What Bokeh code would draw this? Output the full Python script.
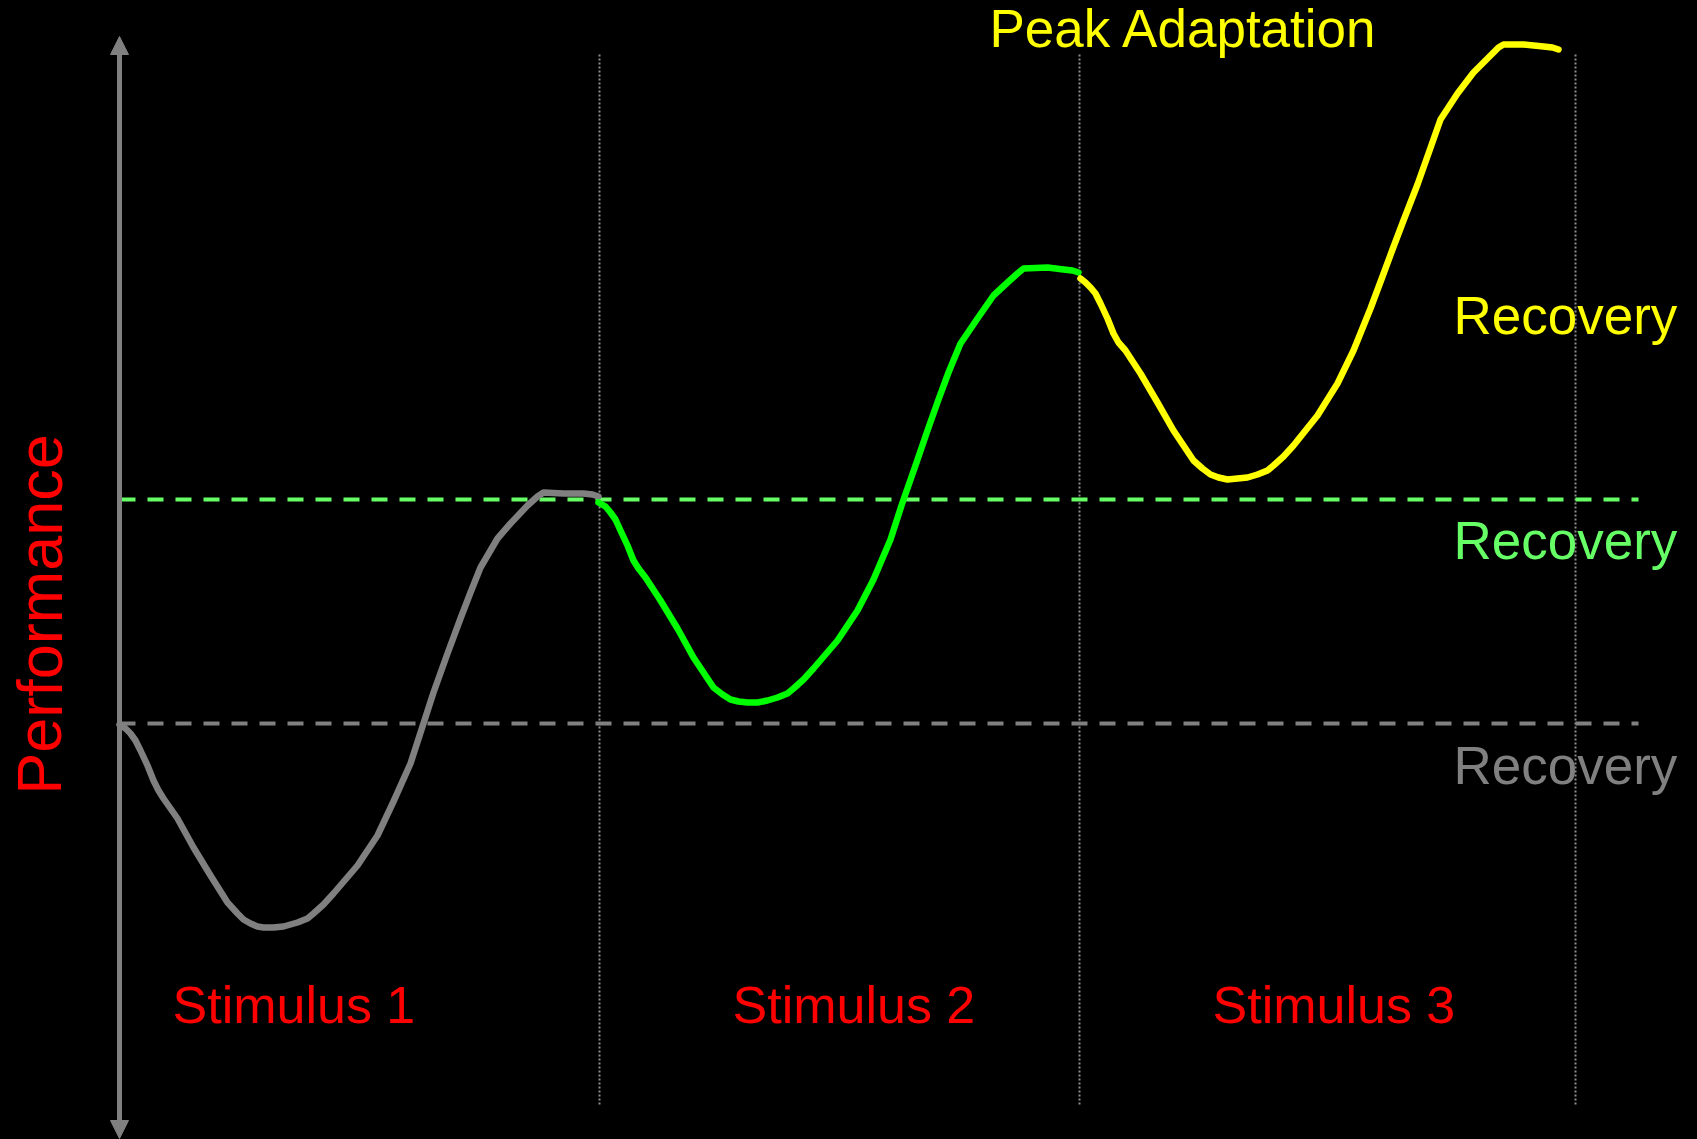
from bokeh.plotting import figure
from bokeh.models import Range1d, Arrow, NormalHead
from bokeh.core.properties import value
from bokeh.embed import file_html
from bokeh.resources import INLINE

# ---- data (time units across, performance units up) ----
stim1_time = [119, 125, 130, 135, 140, 147, 153, 158, 163, 177, 193, 210, 227, 237, 243, 250,
              257, 263, 273, 283, 297, 307, 313, 323, 333, 357, 377, 393, 410, 422, 433, 447,
              460, 470, 480, 497, 510, 527, 537, 543, 563, 583, 592, 598]
stim1_perf = [415, 411, 406, 399, 389, 374, 359, 349, 341, 321, 292, 264, 237, 226, 220, 216,
              213, 212, 212, 213, 217, 221, 226, 235, 246, 274, 304, 338, 376, 413, 447, 486,
              521, 547, 572, 601, 616, 634, 643, 647, 646, 646, 645, 643]

stim2_time = [598, 605, 610, 615, 620, 627, 633, 638, 645, 660, 677, 693, 705, 713, 722, 730,
              738, 747, 757, 767, 777, 787, 793, 803, 813, 837, 857, 873, 890, 902, 915, 927,
              938, 948, 960, 977, 993, 1007, 1017, 1023, 1047, 1063, 1072, 1078]
stim2_perf = [637, 633, 627, 620, 609, 594, 579, 571, 562, 539, 511, 482, 464, 452, 445, 440,
              438, 437, 437, 439, 442, 446, 451, 460, 471, 499, 529, 560, 600, 637, 674, 709,
              740, 767, 796, 821, 844, 857, 866, 871, 872, 870, 869, 867]

stim3_time = [1080, 1085, 1090, 1095, 1100, 1107, 1113, 1118, 1125, 1140, 1157, 1173, 1185, 1193,
              1202, 1210, 1218, 1227, 1237, 1247, 1257, 1267, 1273, 1283, 1293, 1317, 1337, 1353,
              1370, 1382, 1392, 1403, 1417, 1428, 1440, 1457, 1473, 1490, 1498, 1503, 1523, 1543,
              1552, 1558]
stim3_perf = [861, 857, 852, 846, 836, 821, 806, 797, 789, 766, 737, 709, 691, 679,
              671, 665, 662, 660, 661, 662, 665, 669, 674, 683, 694, 724, 756, 789,
              831, 863, 890, 919, 955, 986, 1020, 1046, 1067, 1084, 1092, 1095, 1095, 1093,
              1092, 1090]

baseline_levels = [416, 640]          # gray baseline, green (after stimulus 1) baseline
baseline_span = [119, 1638]
stimulus_bounds = [599, 1079, 1575]
bound_span = [35, 1087]
axis_span = [1, 1103]
axis_time = 119

stimulus_labels = ["Stimulus 1", "Stimulus 2", "Stimulus 3"]
stimulus_label_time = [172, 732, 1212]
stimulus_label_perf = [135, 135, 135]

recovery_labels = ["Recovery", "Recovery", "Recovery"]
recovery_label_time = [1453, 1453, 1453]
recovery_label_perf = [824, 599, 374]
recovery_colors = ["#FFFF00", "#66FF66", "#808080"]

peak_label = ["Peak Adaptation"]
peak_time = [989]
peak_perf = [1111]

perf_label = ["Performance"]
perf_label_time = [39]
perf_label_perf = [525]

FONT = value("Liberation Sans")

p = figure(width=1697, height=1139, output_backend="svg", toolbar_location=None,
           x_range=Range1d(0, 1697), y_range=Range1d(0, 1139),
           x_axis_location=None, y_axis_location=None,
           min_border=0, min_border_left=0, min_border_right=0,
           min_border_top=0, min_border_bottom=0)
p.background_fill_color = "black"
p.border_fill_color = "black"
p.outline_line_color = None
p.grid.visible = False

# stimulus boundaries (dotted)
p.segment(x0=stimulus_bounds, y0=[bound_span[0]] * 3, x1=stimulus_bounds, y1=[bound_span[1]] * 3,
          line_color="#8c8c8c", line_width=2, line_dash="2 2")

# baselines (dashed)
p.segment(x0=[baseline_span[0]] * 2, y0=baseline_levels, x1=[baseline_span[1]] * 2, y1=baseline_levels,
          line_color=["#808080", "#66FF66"], line_width=4, line_dash="16 12")

# vertical performance axis with arrows
p.add_layout(Arrow(x_start=axis_time, y_start=axis_span[0], x_end=axis_time, y_end=axis_span[1],
                   line_color="#808080", line_width=5,
                   start=NormalHead(size=18, fill_color="#808080", line_color="#808080", line_width=1),
                   end=NormalHead(size=18, fill_color="#808080", line_color="#808080", line_width=1)))

# curves
p.line(stim1_time, stim1_perf, line_color="#808080", line_width=6.5, line_join="round", line_cap="round")
p.line(stim2_time, stim2_perf, line_color="#00FF00", line_width=6.5, line_join="round", line_cap="round")
p.line(stim3_time, stim3_perf, line_color="#FFFF00", line_width=6.5, line_join="round", line_cap="round")

# labels
p.text(x=stimulus_label_time, y=stimulus_label_perf, text=stimulus_labels, text_color="#FF0000",
       text_font=FONT, text_font_size="52px", text_align="left", text_baseline="alphabetic")
p.text(x=recovery_label_time, y=recovery_label_perf, text=recovery_labels, text_color=recovery_colors,
       text_font=FONT, text_font_size="53px", text_align="left", text_baseline="alphabetic")
p.text(x=peak_time, y=peak_perf, text=peak_label, text_color="#FFFF00",
       text_font=FONT, text_font_size="53px", text_align="left", text_baseline="alphabetic")
p.text(x=perf_label_time, y=perf_label_perf, text=perf_label, text_color="#FF0000", angle=1.5707963,
       text_font=FONT, text_font_size="63px", text_align="center", text_baseline="alphabetic")

html = file_html(p, INLINE, template="{% block postamble %}<style>html, body { background: #000000; overflow: hidden; }</style>{% endblock %}")
open("out.html", "w").write(html)
